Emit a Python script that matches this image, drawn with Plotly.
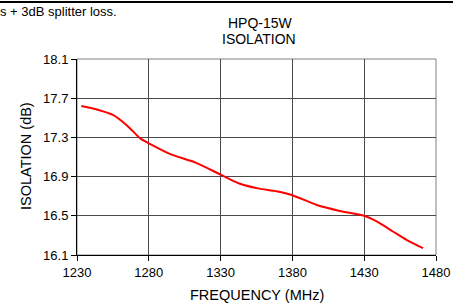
import plotly.graph_objects as go

freq = [1233, 1245, 1255, 1265, 1274, 1280, 1295, 1313, 1330, 1343, 1356, 1369, 1380, 1397, 1413, 1430, 1439, 1450, 1460, 1471]
iso = [17.62, 17.58, 17.53, 17.42, 17.29, 17.24, 17.13, 17.04, 16.92, 16.83, 16.78, 16.75, 16.71, 16.61, 16.55, 16.50, 16.44, 16.34, 16.25, 16.17]

x_ticks = [1230, 1280, 1330, 1380, 1430, 1480]
y_ticks = [16.1, 16.5, 16.9, 17.3, 17.7, 18.1]

W, H = 453, 306
L, R, T, B = 77, 17, 59, 51
pw, ph = W - L - R, H - T - B

def px(x):
    return (x - L) / pw

def py(y):
    return (H - B - y) / ph

fig = go.Figure()
fig.add_trace(go.Scatter(x=freq, y=iso, mode="lines",
                         line=dict(color="#ff0000", width=2, shape="spline", smoothing=0.8),
                         showlegend=False, hoverinfo="skip"))

font = dict(family="Liberation Sans, Arial, sans-serif", color="#000000")
fig.update_layout(
    width=W, height=H,
    margin=dict(l=L, r=R, t=T, b=B, autoexpand=False),
    paper_bgcolor="white", plot_bgcolor="white",
    font=dict(size=13, **font),
    xaxis=dict(range=[1230, 1480], tickvals=x_ticks, ticktext=[str(v) for v in x_ticks],
               showgrid=True, gridcolor="#4a4a4a", gridwidth=1,
               showline=True, linecolor="#000000", linewidth=1,
               ticks="outside", ticklen=5, tickcolor="#000000",
               zeroline=False, automargin=False,
               tickfont=dict(size=13, **font)),
    yaxis=dict(range=[16.1, 18.1], tickvals=y_ticks, ticktext=[f"{v:.1f}" for v in y_ticks],
               showgrid=True, gridcolor="#4a4a4a", gridwidth=1,
               showline=True, linecolor="#000000", linewidth=1,
               ticks="outside", ticklen=5, tickcolor="#000000",
               zeroline=False, automargin=False,
               tickfont=dict(size=13, **font)),
)

# plot frame (right/top border in gray)
fig.add_shape(type="rect", xref="paper", yref="paper", x0=0, x1=1, y0=0, y1=1,
              line=dict(color="#808080", width=1), layer="below")
# top separator line
fig.add_shape(type="line", xref="paper", yref="paper",
              x0=px(0), x1=px(W), y0=py(2), y1=py(2),
              line=dict(color="#000000", width=1.5))

ann = dict(xref="paper", yref="paper", showarrow=False, borderpad=0)
fig.add_annotation(text="s + 3dB splitter loss.", x=px(-1), y=py(12),
                   xanchor="left", yanchor="middle", font=dict(size=13, **font), **ann)
fig.add_annotation(text="HPQ-15W", x=px(260), y=py(23), xanchor="center", yanchor="middle",
                   font=dict(size=14, **font), **ann)
fig.add_annotation(text="ISOLATION", x=px(259), y=py(39), xanchor="center", yanchor="middle",
                   font=dict(size=14, **font), **ann)
fig.add_annotation(text="FREQUENCY (MHz)", x=px(257), y=py(295), xanchor="center", yanchor="middle",
                   font=dict(size=14.5, **font), **ann)
fig.add_annotation(text="ISOLATION (dB)", x=px(26), y=py(156), xanchor="center", yanchor="middle",
                   textangle=-90, font=dict(size=14.5, **font), **ann)

post = (
    "document.body.style.margin='0';"
    "var d=document.createElement('div');"
    "d.style.cssText='position:absolute;left:0;top:1px;width:453px;height:2px;background:#000;z-index:10;pointer-events:none';"
    "document.body.appendChild(d);"
)
fig.write_html("out.html", config={"displayModeBar": False}, post_script=post)
